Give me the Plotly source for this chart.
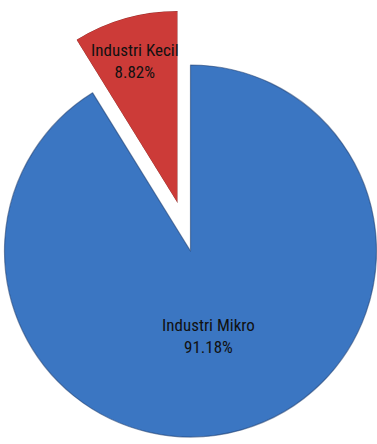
import math
import plotly.graph_objects as go

labels = ["Industri Mikro", "Industri Kecil"]
values = [91.18, 8.82]
colors = ["#3b76c2", "#cc3b38"]

W, H = 377, 444
FONT = "Roboto Condensed, Liberation Sans Narrow, Arial Narrow, Liberation Sans, sans-serif"

fig = go.Figure()

# Main pie (blue slice; the small slice is drawn exploded in its own subplot)
cx, cy, r = 190.5, 251.0, 186.0
fig.add_trace(go.Pie(
    labels=labels, values=values, sort=False, direction="clockwise", rotation=0,
    marker=dict(colors=[colors[0], "rgba(0,0,0,0)"],
                line=dict(width=[1.2, 0], color=["rgba(30,60,110,0.55)", "rgba(0,0,0,0)"])),
    textinfo="none", hoverinfo="skip", showlegend=False,
    domain=dict(x=[(cx - r) / W, (cx + r) / W], y=[1 - (cy + r) / H, 1 - (cy - r) / H]),
))

# Exploded slice drawn on a polar sector
share = values[1] / sum(values) * 360.0
ax_, ay_, rr = 177.5, 203.0, 192.0
wpx = rr * math.sin(math.radians(share))
fig.add_trace(go.Barpolar(
    r=[1], theta=[90 + share / 2], width=[share],
    marker=dict(color=colors[1], line=dict(width=1, color="rgba(110,25,20,0.6)")),
    hoverinfo="skip", showlegend=False,
))
fig.update_layout(polar=dict(
    domain=dict(x=[(ax_ - wpx) / W, ax_ / W], y=[1 - ay_ / H, 1 - (ay_ - rr) / H]),
    sector=[90, 90 + share], hole=0, bgcolor="rgba(0,0,0,0)",
    radialaxis=dict(visible=False, range=[0, 1]),
    angularaxis=dict(visible=False, rotation=0, direction="counterclockwise"),
))

# Data labels
label_pos = [(208, 336), (135, 61)]
for lab, val, (lx, ly) in zip(labels, values, label_pos):
    fig.add_annotation(
        x=lx / W, y=1 - ly / H, xref="paper", yref="paper",
        text=f"{lab}<br>{val:.2f}%", showarrow=False,
        font=dict(family=FONT, size=17, color="#111111"),
        xanchor="center", yanchor="middle", align="center",
    )

fig.update_layout(
    width=W, height=H, margin=dict(l=0, r=0, t=0, b=0),
    paper_bgcolor="white", plot_bgcolor="white", showlegend=False,
)
fig.write_html("out.html", config={"displayModeBar": False},
               post_script="document.body.style.margin='0';document.body.style.overflow='hidden';")
